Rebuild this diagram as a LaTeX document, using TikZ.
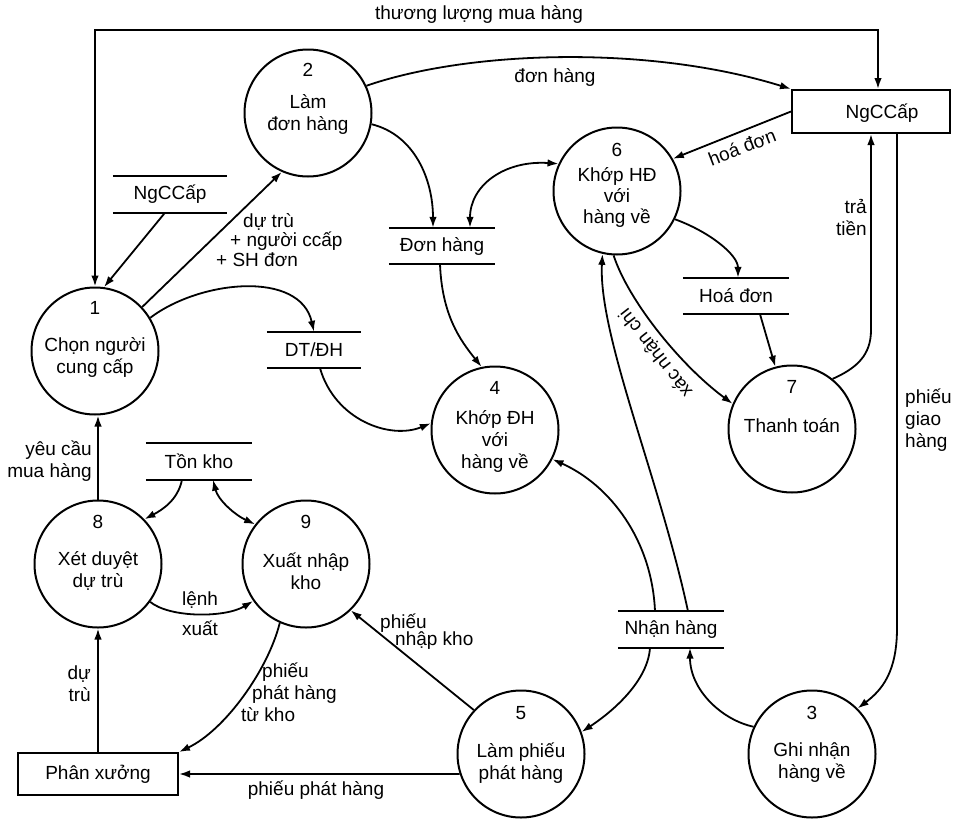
\documentclass[tikz,border=0pt]{standalone}
\usepackage{fontspec}
\setmainfont{Liberation Sans}
\usetikzlibrary{arrows.meta}
\begin{document}
\begin{tikzpicture}[x=1pt,y=-1pt,
  font=\fontsize{19}{22}\selectfont,
  >={Latex[length=11pt,width=7.5pt]},
  proc/.style={circle,draw,line width=2pt,minimum size=127pt,inner sep=0pt},
  ent/.style={rectangle,draw,line width=2pt,inner sep=0pt},
  store/.style={inner sep=0pt,minimum height=36pt},
  flow/.style={line width=1.8pt,->},
  both/.style={line width=1.8pt,<->},
  txt/.style={inner sep=0pt,align=center},
]
\useasboundingbox (0,0) rectangle (964,819);

% processes
\node[proc] (p1) at (95,351) {};
\node[proc] (p2) at (308,113) {};
\node[proc] (p6) at (617,191) {};
\node[proc] (p4) at (495,430) {};
\node[proc] (p7) at (792,429) {};
\node[proc] (p8) at (98,564) {};
\node[proc] (p9) at (306,564) {};
\node[proc] (p5) at (521,754) {};
\node[proc] (p3) at (812,754) {};

\node[txt] at (95,308) {1};
\node[txt] at (95,357) {Chọn người\\cung cấp};
\node[txt] at (308,70) {2};
\node[txt] at (308,114) {Làm\\đơn hàng};
\node[txt] at (617,150) {6};
\node[txt] at (617,197) {Khớp HĐ\\[-1pt]với\\[-1pt]hàng về};
\node[txt] at (495,388) {4};
\node[txt] at (495,441) {Khớp ĐH\\với\\hàng về};
\node[txt] at (792,387) {7};
\node[txt] at (792,426) {Thanh toán};
\node[txt] at (98,522) {8};
\node[txt] at (98,571) {Xét duyệt\\dự trù};
\node[txt] at (306,522) {9};
\node[txt] at (306,571) {Xuất nhập\\kho};
\node[txt] at (521,713) {5};
\node[txt] at (521,763) {Làm phiếu\\phát hàng};
\node[txt] at (812,713) {3};
\node[txt] at (812,763) {Ghi nhận\\hàng về};

% external entities
\node[ent,minimum width=158pt,minimum height=43pt] (ngr) at (871,111.5) {};
\node[txt] at (882,113) {NgCCấp};
\node[ent,minimum width=160pt,minimum height=42pt] (px) at (98,774) {Phân xưởng};

% data stores
\node[store,minimum width=114pt] (sNg) at (170,194.5) {NgCCấp};
\node[store,minimum width=106pt] (sDon) at (442,246) {Đơn hàng};
\node[store,minimum width=94pt] (sDT) at (314,350) {DT/ĐH};
\node[store,minimum width=106pt] (sHoa) at (736,296) {Hoá đơn};
\node[store,minimum width=106pt] (sTon) at (199,461.5) {Tồn kho};
\node[store,minimum width=106pt] (sNhan) at (671,629.5) {Nhận hàng};
\foreach \s in {sNg,sDon,sDT,sHoa,sTon,sNhan}
  \draw[line width=2pt] (\s.north west) -- (\s.north east)
                        (\s.south west) -- (\s.south east);

% flows
\draw[both] (p1.north) -- (95,30) -| ([xshift=7pt]ngr.north);
\node[txt] (lblTL) at (479,14) {thương lượng mua hàng};

\draw[flow] (p2.25) .. controls (470,50) and (650,45) .. (ngr.north west);
\node[txt] at (555,77) {đơn hàng};

\draw[flow] (p2.-10) .. controls (415,135) and (433,180) .. ([xshift=-9pt]sDon.north);
\draw[both] ([xshift=28pt]sDon.north) .. controls (470,185) and (505,160) .. (p6.155);
\draw[flow] ([xshift=-2pt]sDon.south) .. controls (442,315) and (460,340) .. (p4.102);

\draw[flow] (ngr.west) -- (p6.30);
\node[txt,rotate=21] at (742,147) {hoá đơn};

\draw[flow] (p6.-26) .. controls (710,232) and (738,255) .. ([xshift=2pt]sHoa.north);
\draw[flow] ([xshift=24pt]sHoa.south) -- (p7.105);

\draw[flow] (p7.51) .. controls (857,368) and (871,355) .. (871,330) -- (ngr.south);
\node[txt,anchor=east,align=right] at (867,218) {trả\\tiền};

\draw[flow] ([xshift=26pt]ngr.south) -- (897,628) .. controls (897,672) and (882,690) .. (p3.45);
\node[txt,anchor=west,align=left] at (905,420) {phiếu\\giao\\hàng};

\draw[flow] (p6.-93) .. controls (628,300) and (680,365) .. (p7.157);
\node[txt,rotate=128] at (656,353) {xác nhận chi};

\draw[flow] ([xshift=17pt]sNhan.north) .. controls (660,480) and (598,335) .. (p6.-103);
\draw[flow] ([xshift=-16pt]sNhan.north) .. controls (652,540) and (610,485) .. (p4.-27);
\draw[flow] ([xshift=-21pt]sNhan.south) .. controls (648,680) and (615,710) .. (p5.20);
\draw[flow] (p3.155) .. controls (722,720) and (690,690) .. ([xshift=19pt]sNhan.south);

\draw[flow] (p5.198) -- (px.east);
\node[txt] at (316,790) {phiếu phát hàng};

\draw[flow] (p5.137) -- (p9.-46);
\node[txt,anchor=west] at (380,623) {phiếu};
\node[txt,anchor=west] at (395,641) {nhập kho};

\draw[flow] (p9.-114) .. controls (268,670) and (225,730) .. (px.north east);
\node[txt,anchor=west] at (262,672) {phiếu};
\node[txt,anchor=west] at (252,694) {phát hàng};
\node[txt,anchor=west] at (241,715) {từ kho};

\draw[flow] (px.north) -- (p8.south);
\node[txt,anchor=east,align=right] at (91,684) {dự\\trù};

\draw[flow] (p8.-36) .. controls (170,618) and (225,618) .. (p9.215);
\node[txt] at (200,600) {lệnh};
\node[txt] at (200,628) {xuất};

\draw[flow] (p8.north) -- (p8.north |- p1.south);
\node[txt,anchor=east,align=right] at (92,461) {yêu cầu\\mua hàng};

\draw[flow] ([xshift=-17pt]sTon.south) .. controls (178,500) and (162,510) .. (p8.44);
\draw[both] ([xshift=14pt]sTon.south) .. controls (218,500) and (235,515) .. (p9.142);

\draw[flow] ([xshift=-5pt]sNg.south) -- (p1.82);

\draw[flow] (p1.43) -- (p2.-114);
\node[txt,anchor=west] at (243,222) {dự trù};
\node[txt,anchor=west] at (230,241) {+ người ccấp};
\node[txt,anchor=west] at (216,260) {+ SH đơn};

\draw[flow] (p1.31) .. controls (200,280) and (300,270) .. (sDT.north);
\draw[flow] ([xshift=6pt]sDT.south) .. controls (335,420) and (390,440) .. (p4.174);
\end{tikzpicture}
\end{document}
